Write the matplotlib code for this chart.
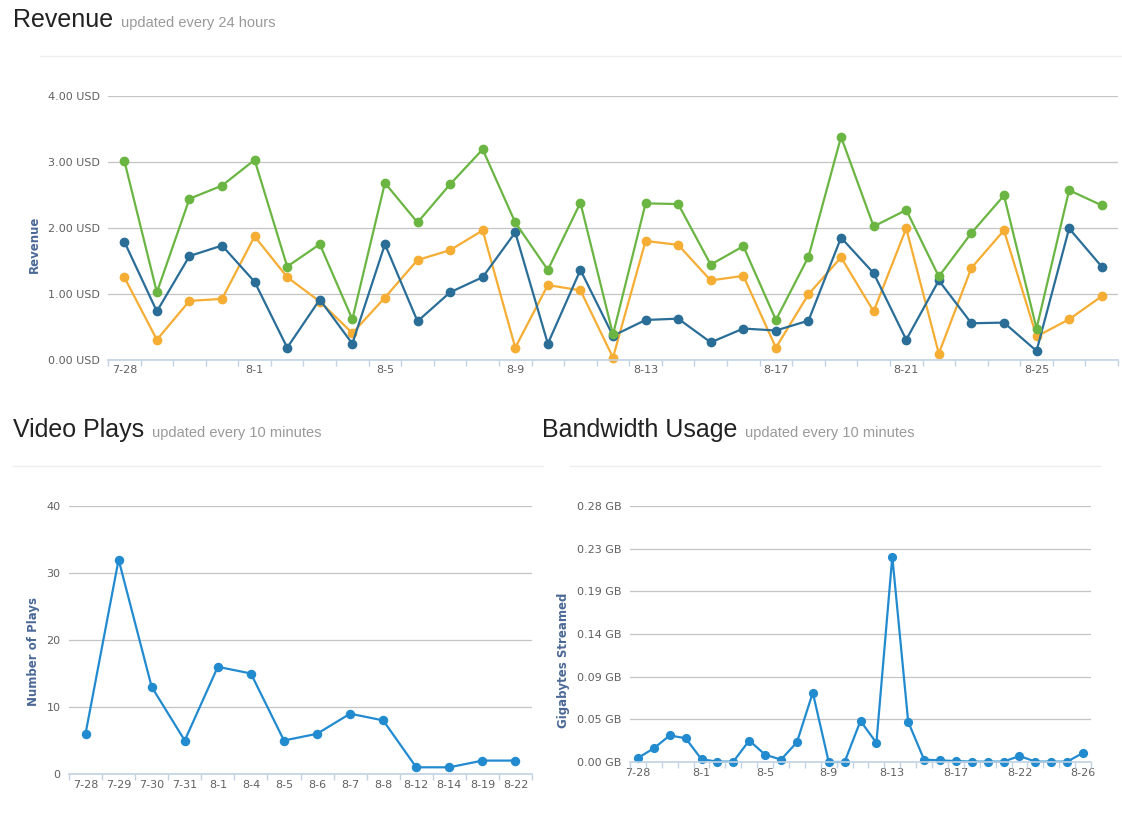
import numpy as np
import matplotlib
matplotlib.use('Agg')
import matplotlib.pyplot as plt
from matplotlib.lines import Line2D
from matplotlib.ticker import FixedLocator, FuncFormatter

# revenue, one point per day 7-28 .. 8-27
rev_dates = ['7-28', '7-29', '7-30', '7-31'] + ['8-' + str(d) for d in range(1, 28)]
rev_green = [3.02, 1.02, 2.44, 2.64, 3.03, 1.41, 1.75, 0.61, 2.68, 2.08, 2.66, 3.19, 2.08, 1.36,
             2.38, 0.38, 2.37, 2.36, 1.44, 1.72, 0.60, 1.56, 3.38, 2.02, 2.27, 1.26, 1.92, 2.49,
             0.47, 2.57, 2.34]
rev_blue = [1.79, 0.73, 1.57, 1.73, 1.18, 0.18, 0.91, 0.24, 1.75, 0.58, 1.02, 1.25, 1.93, 0.24,
            1.36, 0.36, 0.60, 0.62, 0.26, 0.47, 0.44, 0.59, 1.85, 1.31, 0.30, 1.20, 0.55, 0.56,
            0.13, 1.99, 1.41]
rev_orange = [1.25, 0.30, 0.89, 0.92, 1.87, 1.25, 0.88, 0.40, 0.94, 1.51, 1.66, 1.96, 0.18, 1.13,
              1.05, 0.03, 1.80, 1.74, 1.20, 1.27, 0.18, 0.99, 1.55, 0.73, 1.99, 0.09, 1.39, 1.96,
              0.35, 0.61, 0.96]
rev_yticks = [0, 1, 2, 3, 4]

# video plays
vp_dates = ['7-28', '7-29', '7-30', '7-31', '8-1', '8-4', '8-5', '8-6', '8-7', '8-8',
            '8-12', '8-14', '8-19', '8-22']
vp_plays = [6, 32, 13, 5, 16, 15, 5, 6, 9, 8, 1, 1, 2, 2]
vp_yticks = [0, 10, 20, 30, 40]

# bandwidth usage
bw_dates = ['7-28', '7-29', '7-30', '7-31'] + ['8-' + str(d) for d in range(1, 20)] + \
           ['8-21', '8-22', '8-23', '8-24', '8-25', '8-26']
bw_gb = [0.0044, 0.0150, 0.0290, 0.0260, 0.0030, 0.0004, 0.0004, 0.0235, 0.0080, 0.0026,
         0.0216, 0.0759, 0.0000, 0.0000, 0.0450, 0.0209, 0.2247, 0.0440, 0.0026, 0.0018,
         0.0010, 0.0004, 0.0004, 0.0004, 0.0066, 0.0004, 0.0004, 0.0004, 0.0099]
bw_yticks = [0.0, 0.0467, 0.0933, 0.14, 0.1867, 0.2333, 0.28]

W, H = 1122, 819
fig = plt.figure(figsize=(W / 100, H / 100), dpi=100)
renderer = fig.canvas.get_renderer()

title_col = '#222222'
sub_col = '#999999'
tick_col = '#606060'
label_col = '#4a6896'
grid_col = '#c4c4c4'
base_col = '#c2d2e2'


def px_axes(l, t, r, b):
    return fig.add_axes([l / W, 1 - b / H, (r - l) / W, (b - t) / H])


def style_axes(ax, n, ylim, yticks, fmt, xticks, xlabels):
    ax.set_xlim(-0.5, n - 0.5)
    ax.set_ylim(*ylim)
    for s in ['top', 'right', 'left']:
        ax.spines[s].set_visible(False)
    ax.spines['bottom'].set_color(base_col)
    ax.spines['bottom'].set_linewidth(1.2)
    ax.set_yticks(yticks)
    ax.yaxis.set_major_formatter(FuncFormatter(fmt))
    ax.tick_params(axis='y', length=0, pad=6, labelsize=8, labelcolor=tick_col)
    ax.grid(axis='y', color=grid_col, linewidth=0.9)
    ax.set_axisbelow(True)
    ax.set_xticks(xticks)
    ax.set_xticklabels(xlabels)
    ax.tick_params(axis='x', which='major', length=0, pad=4, labelsize=8, labelcolor=tick_col)
    ax.xaxis.set_minor_locator(FixedLocator(np.arange(n + 1) - 0.5))
    ax.tick_params(axis='x', which='minor', length=4, width=1, color=base_col, direction='out')


def header(x, y, title, sub):
    t = fig.text(x / W, 1 - y / H, title, fontsize=18, color=title_col,
                 family='Liberation Sans', va='baseline', ha='left')
    x1 = t.get_window_extent(renderer).x1
    fig.text((x1 + 8) / W, 1 - y / H, sub, fontsize=10.5, color=sub_col,
             family='Liberation Sans', va='baseline', ha='left')


def sep(x0, x1, y):
    fig.add_artist(Line2D([x0 / W, x1 / W], [1 - y / H, 1 - y / H],
                          transform=fig.transFigure, color='#eeeeee', linewidth=1))


# Revenue
header(13, 27, 'Revenue', 'updated every 24 hours')
sep(40, 1122, 56)
ax1 = px_axes(108, 96, 1118, 359.5)
x = np.arange(len(rev_dates))
ax1.plot(x, rev_orange, color='#f5ad34', marker='o', markersize=6, linewidth=1.6, clip_on=False)
ax1.plot(x, rev_blue, color='#2a6e98', marker='o', markersize=6, linewidth=1.6, clip_on=False)
ax1.plot(x, rev_green, color='#6bb543', marker='o', markersize=6, linewidth=1.6, clip_on=False)
style_axes(ax1, len(rev_dates), (0, 4), rev_yticks, lambda v, p: '%.2f USD' % v,
           list(range(0, len(rev_dates), 4)), rev_dates[::4])
fig.text(34 / W, 1 - 244 / H, 'Revenue', rotation=90, ha='center', va='center',
         fontsize=8.5, fontweight='bold', color=label_col)

# Video Plays
header(13, 437, 'Video Plays', 'updated every 10 minutes')
sep(13, 543, 466)
ax2 = px_axes(69, 506, 532, 774)
x = np.arange(len(vp_dates))
ax2.plot(x, vp_plays, color='#228bd0', marker='o', markersize=5.8, linewidth=1.6, clip_on=False)
style_axes(ax2, len(vp_dates), (0, 40), vp_yticks, lambda v, p: '%d' % v,
           list(range(len(vp_dates))), vp_dates)
fig.text(34 / W, 1 - 652 / H, 'Number of Plays', rotation=90, ha='center', va='center',
         fontsize=8.5, fontweight='bold', color=label_col)

# Bandwidth Usage
header(542, 437, 'Bandwidth Usage', 'updated every 10 minutes')
sep(570, 1100, 466)
ax3 = px_axes(630, 506, 1091, 762)
x = np.arange(len(bw_dates))
ax3.plot(x, bw_gb, color='#228bd0', marker='o', markersize=5.6, linewidth=1.6, clip_on=False)
style_axes(ax3, len(bw_dates), (0, 0.28), bw_yticks, lambda v, p: '%.2f GB' % v,
           list(range(0, len(bw_dates), 4)), bw_dates[::4])
fig.text(563 / W, 1 - 660 / H, 'Gigabytes Streamed', rotation=90, ha='center', va='center',
         fontsize=8.5, fontweight='bold', color=label_col)

fig.savefig('out.png', dpi=100, facecolor='white')
